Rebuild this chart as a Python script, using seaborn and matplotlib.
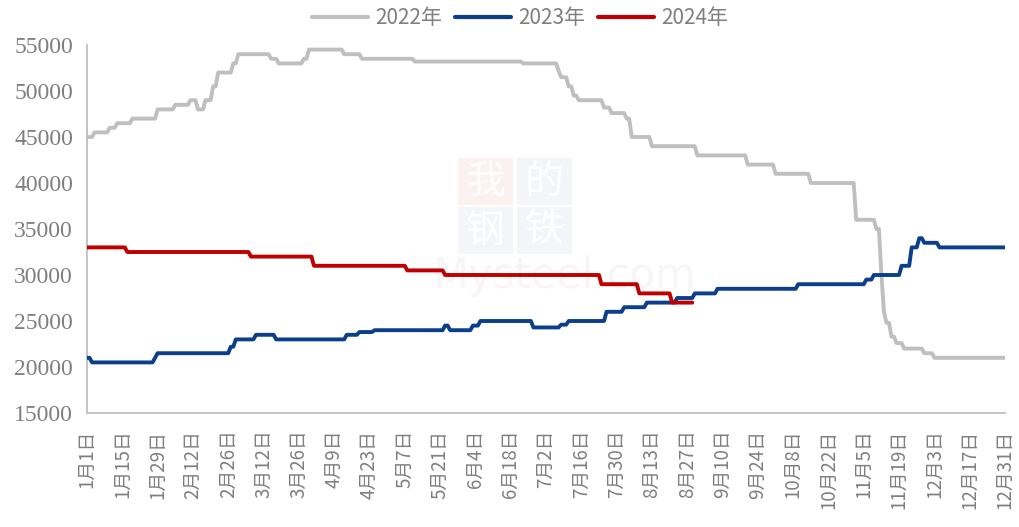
import matplotlib
matplotlib.use("Agg")
import matplotlib.pyplot as plt
import matplotlib.patches as mpatches
import numpy as np
import pandas as pd
import seaborn as sns

# Price change points per year: month-day the new price takes effect, and the price
dates_2022 = ["01-01", "01-04", "01-10", "01-13", "01-19", "01-29", "02-05", "02-11",
              "02-14", "02-17", "02-20", "02-22", "02-28", "03-02", "03-15", "03-18",
              "03-28", "03-30", "04-13", "04-20", "05-11", "06-23", "07-07", "07-08",
              "07-11", "07-13", "07-15", "07-25", "07-28", "08-03", "08-05", "08-13",
              "08-31", "09-20", "10-01", "10-15", "11-02", "11-10", "11-12", "11-13",
              "11-14", "11-16", "11-18", "11-21", "11-29", "12-03"]
prices_2022 = [45000, 45500, 46000, 46500, 47000, 48000, 48500, 49000,
               48000, 49000, 50500, 52000, 53000, 54000, 53500, 53000,
               53500, 54500, 54000, 53500, 53200, 53000, 52200, 51500,
               50500, 49500, 49000, 48200, 47600, 47000, 45000, 44000,
               43000, 42000, 41000, 40000, 36000, 35000, 30000, 26000,
               24800, 23300, 22600, 22000, 21500, 21000]

dates_2023 = ["01-01", "01-03", "01-28", "01-29", "02-27", "03-01", "03-09", "03-17",
              "04-14", "04-19", "04-25", "05-23", "05-25", "06-03", "06-06", "06-27",
              "07-08", "07-11", "07-26", "08-02", "08-11", "08-23", "08-30", "09-08",
              "10-10", "11-06", "11-09", "11-20", "11-24", "11-27", "11-29", "12-05"]
prices_2023 = [21000, 20500, 21000, 21500, 22200, 23000, 23500, 23000,
               23500, 23800, 24000, 24500, 24000, 24500, 25000, 24300,
               24600, 25000, 26000, 26500, 27000, 27500, 28000, 28500,
               29000, 29500, 30000, 31000, 33000, 34000, 33500, 33000]

dates_2024 = ["01-01", "01-17", "03-07", "04-01", "05-08", "05-23", "07-24", "08-08",
              "08-21"]
prices_2024 = [33000, 32500, 32000, 31000, 30500, 30000, 29000, 28000,
               27000]

series_names = ["2022年", "2023年", "2024年"]
series_colors = ["#bfbfbf", "#0b3f8c", "#c00000"]
last_days = ["12-31", "12-31", "08-29"]


def daily(change_dates, prices, last):
    """Daily price series held constant between change points (common calendar)."""
    idx = pd.to_datetime(["2023-" + d for d in change_dates])
    s = pd.Series(prices, index=idx, dtype=float)
    full = pd.date_range("2023-01-01", "2023-" + last, freq="D")
    return s.reindex(full).ffill()


frames = []
for name, d, p, last in zip(series_names,
                            [dates_2022, dates_2023, dates_2024],
                            [prices_2022, prices_2023, prices_2024],
                            last_days):
    s = daily(d, p, last)
    frames.append(pd.DataFrame({"date": s.index, "price": s.values, "year": name}))
df = pd.concat(frames, ignore_index=True)

sns.set_theme(style="white")
plt.rcParams["font.family"] = ["Noto Sans CJK SC", "DejaVu Sans"]

W, H = 1019, 527
fig = plt.figure(figsize=(W / 100, H / 100), dpi=100)
ax = fig.add_axes([87 / W, 1 - 413 / H, (1005 - 87) / W, (413 - 45) / H])

# faint brand mark behind the lines
wm = [("我", 458, 158, "#fcf1f1"), ("的", 517, 158, "#f4f5f9"),
      ("钢", 458, 207, "#f4f5f9"), ("铁", 517, 207, "#f4f5f9")]
for ch, px, py, fc in wm:
    ax.add_patch(mpatches.Rectangle((px / W, 1 - (py + 47) / H), 55 / W, 47 / H,
                                    transform=fig.transFigure, facecolor=fc,
                                    edgecolor="none", zorder=0))
    ax.text((px + 27.5) / W, 1 - (py + 23.5) / H, ch, color="white", fontsize=28,
            ha="center", va="center", zorder=0.5, transform=fig.transFigure)
ax.text(565 / W, 1 - 276 / H, "Mysteel.com", color="#f6f6f6", fontsize=30,
        ha="center", va="center", zorder=0.5, family=["DejaVu Sans"],
        transform=fig.transFigure)

sns.lineplot(data=df, x="date", y="price", hue="year", palette=series_colors,
             hue_order=series_names, linewidth=2.8, ax=ax, legend=False, zorder=3)

# x axis: every 14 days
ticks = pd.date_range("2023-01-01", "2023-12-31", freq="14D")
ax.set_xticks(ticks)
ax.set_xticklabels([f"{t.month}月{t.day}日" for t in ticks], rotation=90,
                   fontsize=13.5, color="#7f7f7f")
ax.set_xlim(pd.Timestamp("2023-01-01"), pd.Timestamp("2023-12-31"))

yt = np.arange(15000, 55001, 5000)
ax.set_yticks(yt)
ax.set_yticklabels([str(v) for v in yt], fontsize=17, color="#7f7f7f",
                   family=["Liberation Serif"])
ax.set_ylim(15000, 55000)

ax.set_xlabel("")
ax.set_ylabel("")
for side in ["top", "right"]:
    ax.spines[side].set_visible(False)
for side in ["left", "bottom"]:
    ax.spines[side].set_color("#bfbfbf")
    ax.spines[side].set_linewidth(1.3)
ax.tick_params(axis="both", direction="out", length=6, width=1.2, color="#bfbfbf")
ax.tick_params(axis="x", pad=6)
ax.tick_params(axis="y", pad=4)

handles = [plt.Line2D([], [], color=c, linewidth=3) for c in series_colors]
leg = fig.legend(handles, series_names, loc="center", bbox_to_anchor=(520 / W, 1 - 18 / H),
                 ncol=3, frameon=False, fontsize=15, handlelength=2.7, handletextpad=0.35,
                 columnspacing=0.6)
for t in leg.get_texts():
    t.set_color("#7f7f7f")

fig.savefig("out.png", dpi=100, facecolor="white")
